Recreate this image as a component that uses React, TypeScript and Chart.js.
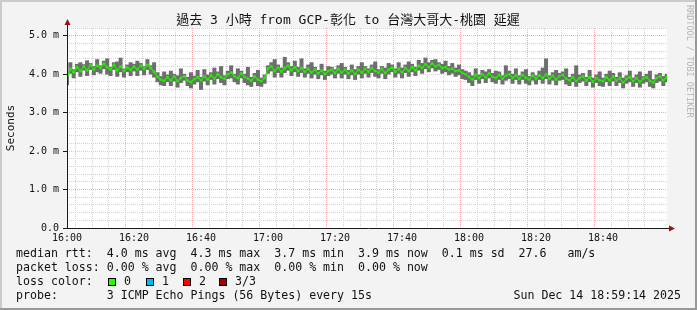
import React, { useEffect, useRef } from "react";
import { Chart, registerables } from "chart.js";

Chart.register(...registerables);

const W = 697;
const H = 310;

const titleText = "過去 3 小時 from GCP-彰化 to 台灣大哥大-桃園 延遲";
const yAxisTitle = "Seconds";
const startHour = 16;
const xMaxMinutes = 179.1;
const yMax = 5.2;

// median RTT (ms), one value per minute from 16:00
const medianRtt = [
  3.88, 4.14, 4.05, 4.18, 4.08, 4.20, 4.10, 4.24, 4.12, 4.22,
  4.16, 4.27, 4.18, 4.12, 4.24, 4.10, 4.20, 4.08, 4.17, 4.11,
  4.20, 4.12, 4.22, 4.14, 4.24, 4.16, 4.06, 3.93, 3.86, 3.83,
  3.92, 3.84, 3.94, 3.82, 3.90, 3.94, 3.84, 3.79, 3.87, 3.92,
  3.84, 3.94, 3.86, 3.97, 3.88, 4.00, 3.92, 3.88, 4.00, 4.04,
  3.94, 3.90, 4.02, 3.93, 3.88, 3.83, 3.94, 3.86, 3.82, 3.90,
  4.14, 4.20, 4.08, 4.17, 4.06, 4.16, 4.22, 4.10, 4.18, 4.08,
  4.16, 4.06, 4.14, 4.04, 4.12, 4.02, 4.10, 4.00, 4.08, 4.12,
  4.03, 4.14, 4.04, 4.12, 4.02, 4.10, 4.00, 4.12, 4.04, 4.14,
  4.06, 4.16, 4.08, 4.04, 4.14, 4.03, 4.12, 4.17, 4.06, 4.14,
  4.04, 4.16, 4.08, 4.18, 4.10, 4.22, 4.16, 4.26, 4.18, 4.28,
  4.20, 4.24, 4.16, 4.18, 4.12, 4.14, 4.08, 4.10, 4.03, 4.00,
  3.93, 3.86, 3.98, 3.90, 4.00, 3.92, 4.02, 3.93, 3.90, 3.98,
  3.88, 3.96, 4.00, 3.90, 3.97, 3.88, 3.98, 3.90, 3.86, 3.96,
  3.88, 3.97, 3.90, 3.99, 3.88, 3.96, 3.86, 3.95, 3.98, 3.88,
  3.84, 3.92, 3.82, 3.90, 3.94, 3.83, 3.92, 3.80, 3.90, 3.84,
  3.82, 3.92, 3.84, 3.94, 3.83, 3.90, 3.78, 3.88, 3.92, 3.82,
  3.90, 3.80, 3.88, 3.92, 3.82, 3.78, 3.90, 3.94, 3.84, 3.92,
];

// smoke upper edge (ms)
const smokeHigh = [
  3.96, 4.30, 4.12, 4.26, 4.30, 4.25, 4.35, 4.28, 4.20, 4.38,
  4.22, 4.34, 4.40, 4.18, 4.30, 4.32, 4.42, 4.14, 4.24, 4.30,
  4.26, 4.34, 4.28, 4.20, 4.38, 4.22, 4.30, 4.04, 3.94, 4.06,
  3.98, 4.08, 4.00, 3.96, 4.14, 4.00, 3.92, 4.04, 3.95, 4.10,
  3.92, 4.12, 3.98, 4.04, 4.16, 4.06, 4.20, 3.96, 4.08, 4.22,
  4.00, 4.14, 4.08, 4.00, 4.18, 3.92, 4.02, 4.10, 3.90, 3.98,
  4.22, 4.30, 4.38, 4.24, 4.16, 4.44, 4.30, 4.20, 4.34, 4.18,
  4.40, 4.14, 4.24, 4.30, 4.18, 4.10, 4.26, 4.08, 4.20, 4.18,
  4.12, 4.22, 4.28, 4.18, 4.10, 4.24, 4.12, 4.20, 4.30, 4.20,
  4.14, 4.24, 4.32, 4.12, 4.20, 4.16, 4.28, 4.24, 4.14, 4.30,
  4.16, 4.24, 4.32, 4.26, 4.18, 4.36, 4.28, 4.42, 4.30, 4.36,
  4.38, 4.30, 4.26, 4.34, 4.20, 4.28, 4.16, 4.24, 4.12, 4.08,
  4.04, 3.96, 4.14, 3.98, 4.10, 4.06, 4.12, 4.02, 4.08, 4.06,
  3.96, 4.22, 4.08, 4.00, 4.14, 3.96, 4.06, 4.12, 3.94, 4.04,
  3.96, 4.08, 4.16, 4.40, 3.96, 4.04, 4.10, 4.02, 4.06, 4.14,
  3.92, 4.00, 4.22, 3.98, 4.02, 3.92, 4.10, 3.90, 3.98, 4.06,
  3.90, 4.00, 4.08, 4.02, 3.92, 4.04, 3.90, 3.96, 4.08, 3.90,
  3.98, 4.06, 3.94, 4.00, 4.08, 3.86, 3.98, 4.02, 3.94, 4.00,
];

// smoke lower edge (ms)
const smokeLow = [
  3.72, 4.02, 3.90, 4.06, 3.94, 4.10, 3.96, 4.12, 3.98, 4.06,
  4.02, 4.14, 4.00, 3.96, 4.12, 3.94, 4.06, 3.92, 4.06, 3.96,
  4.08, 3.96, 4.10, 3.98, 4.12, 4.00, 3.92, 3.80, 3.72, 3.70,
  3.80, 3.70, 3.82, 3.66, 3.78, 3.84, 3.70, 3.64, 3.74, 3.80,
  3.60, 3.82, 3.72, 3.86, 3.74, 3.88, 3.78, 3.72, 3.88, 3.90,
  3.80, 3.74, 3.90, 3.78, 3.72, 3.68, 3.80, 3.70, 3.68, 3.76,
  4.02, 4.08, 3.92, 4.04, 3.92, 4.04, 4.10, 3.96, 4.06, 3.94,
  4.04, 3.92, 4.02, 3.90, 4.00, 3.88, 3.98, 3.86, 3.96, 4.00,
  3.90, 4.02, 3.90, 4.00, 3.88, 3.98, 3.86, 4.00, 3.90, 4.02,
  3.92, 4.04, 3.94, 3.90, 4.02, 3.88, 4.00, 4.06, 3.92, 4.02,
  3.90, 4.04, 3.94, 4.06, 3.96, 4.10, 4.02, 4.14, 4.06, 4.16,
  4.08, 4.12, 4.02, 4.06, 3.98, 4.02, 3.94, 3.98, 3.88, 3.86,
  3.78, 3.70, 3.86, 3.76, 3.88, 3.78, 3.90, 3.80, 3.76, 3.86,
  3.74, 3.84, 3.88, 3.76, 3.86, 3.74, 3.86, 3.76, 3.72, 3.84,
  3.74, 3.86, 3.76, 3.88, 3.74, 3.84, 3.72, 3.84, 3.86, 3.74,
  3.70, 3.80, 3.68, 3.78, 3.82, 3.70, 3.80, 3.66, 3.78, 3.70,
  3.68, 3.80, 3.70, 3.82, 3.70, 3.78, 3.64, 3.76, 3.80, 3.68,
  3.78, 3.66, 3.76, 3.80, 3.68, 3.64, 3.78, 3.82, 3.70, 3.80,
];

const legendRows = [
  "median rtt:  4.0 ms avg  4.3 ms max  3.7 ms min  3.9 ms now  0.1 ms sd  27.6   am/s",
  "packet loss: 0.00 % avg  0.00 % max  0.00 % min  0.00 % now",
  "loss color:",
  "probe:       3 ICMP Echo Pings (56 Bytes) every 15s",
];
const lossLabels = ["0", "1", "2", "3/3"];
const lossColors = ["#26ff00", "#00b8ff", "#ff0000", "#a00000"];
const dateText = "Sun Dec 14 18:59:14 2025";
const watermark = "RRDTOOL / TOBI OETIKER";

const MONO = '"DejaVu Sans Mono", "Noto Sans CJK TC", monospace';
const MINOR = "#d2d2d2";
const MAJOR = "#f2aaaa";

const isInt = (v: number) => Math.abs(v - Math.round(v)) < 1e-6;
const tickVal = (c: any) => (c && c.tick ? Number(c.tick.value) : NaN);

const decorPlugin = {
  id: "decor",
  beforeDraw(chart: any) {
    const { ctx, chartArea: a } = chart;
    ctx.save();
    ctx.fillStyle = "#f3f3f3";
    ctx.fillRect(0, 0, W, H);
    ctx.fillStyle = "#cbcbcb";
    ctx.fillRect(0, 0, W, 2);
    ctx.fillRect(0, 0, 2, H);
    ctx.fillStyle = "#999999";
    ctx.fillRect(W - 2, 0, 2, H);
    ctx.fillRect(0, H - 2, W, 2);
    ctx.fillStyle = "#ffffff";
    ctx.fillRect(a.left, a.top, a.right - a.left, a.bottom - a.top);
    ctx.restore();
  },
  afterDraw(chart: any) {
    const { ctx, chartArea: a } = chart;
    ctx.save();
    // axes
    ctx.strokeStyle = "#1a1a1a";
    ctx.lineWidth = 1;
    ctx.beginPath();
    ctx.moveTo(a.left + 0.5, a.bottom);
    ctx.lineTo(a.left + 0.5, a.top - 4);
    ctx.moveTo(a.left, a.bottom + 0.5);
    ctx.lineTo(a.right + 3, a.bottom + 0.5);
    ctx.stroke();
    // arrows
    ctx.fillStyle = "#9a1010";
    ctx.beginPath();
    ctx.moveTo(a.left + 0.5, a.top - 9);
    ctx.lineTo(a.left - 2.5, a.top - 3);
    ctx.lineTo(a.left + 3.5, a.top - 3);
    ctx.closePath();
    ctx.fill();
    ctx.beginPath();
    ctx.moveTo(a.right + 8, a.bottom + 0.5);
    ctx.lineTo(a.right + 2, a.bottom - 2.5);
    ctx.lineTo(a.right + 2, a.bottom + 3.5);
    ctx.closePath();
    ctx.fill();

    // title
    ctx.fillStyle = "#111";
    ctx.font = `13px ${MONO}`;
    ctx.textAlign = "center";
    ctx.textBaseline = "middle";
    ctx.fillText(titleText, 348, 21);

    // y title
    ctx.save();
    ctx.translate(11, 128);
    ctx.rotate(-Math.PI / 2);
    ctx.font = `11px ${MONO}`;
    ctx.fillText(yAxisTitle, 0, 0);
    ctx.restore();

    // watermark
    ctx.save();
    ctx.translate(689, 5);
    ctx.rotate(Math.PI / 2);
    ctx.font = `8.5px ${MONO}`;
    ctx.fillStyle = "#b4b4b4";
    ctx.textAlign = "left";
    ctx.fillText(watermark, 0, 0);
    ctx.restore();

    // legend
    ctx.font = `11.6px ${MONO}`;
    ctx.textAlign = "left";
    ctx.fillStyle = "#111";
    const rowsY = [254, 268, 282, 296];
    legendRows.forEach((r, i) => ctx.fillText(r, 16, rowsY[i]));
    const boxX = [108, 146, 183, 219];
    lossLabels.forEach((lab, i) => {
      ctx.fillStyle = lossColors[i];
      ctx.fillRect(boxX[i], 278, 8, 8);
      ctx.strokeStyle = "#000";
      ctx.strokeRect(boxX[i] + 0.5, 278.5, 7, 7);
      ctx.fillStyle = "#111";
      ctx.fillText(lab, boxX[i] + 16, 282);
    });
    ctx.textAlign = "right";
    ctx.fillText(dateText, 681, 296);
    ctx.restore();
  },
};

export default function App() {
  const ref = useRef<HTMLCanvasElement | null>(null);
  useEffect(() => {
    document.body.style.margin = "0";
    const minutes = medianRtt.map((_, i) => i);
    const chart = new Chart(ref.current as HTMLCanvasElement, {
      type: "bar",
      data: {
        datasets: [
          {
            type: "line",
            data: minutes.map((m, i) => ({ x: m, y: medianRtt[i] })),
            borderColor: "#22ee00",
            backgroundColor: "#22ee00",
            borderWidth: 1.2,
            pointRadius: 1.4,
            pointBorderWidth: 0,
            tension: 0,
            order: 0,
          } as any,
          {
            type: "bar",
            data: minutes.map((m, i) => ({ x: m, y: [smokeLow[i], smokeHigh[i]] })),
            backgroundColor: "#6e6e6e",
            borderWidth: 0,
            categoryPercentage: 1,
            barPercentage: 1,
            order: 1,
          } as any,
        ],
      },
      options: {
        animation: false,
        responsive: false,
        devicePixelRatio: 1,
        layout: { padding: { left: 0, top: 28, right: 30, bottom: 62 } },
        plugins: { legend: { display: false }, tooltip: { enabled: false } },
        scales: {
          x: {
            type: "linear",
            min: 0,
            max: xMaxMinutes,
            offset: false,
            afterFit: (s: any) => {
              s.height = 20;
            },
            grid: {
              drawTicks: false,
              color: (c: any) => {
                const v = tickVal(c);
                if (!isFinite(v) || v === 0) return "transparent";
                return v % 20 === 0 ? MAJOR : MINOR;
              },
            },
            border: { display: false, dash: [1, 1] },
            ticks: {
              stepSize: 5,
              includeBounds: false,
              autoSkip: false,
              maxRotation: 0,
              padding: 4,
              color: "#111",
              font: { family: MONO, size: 10 },
              callback: (v: any) => {
                const n = Number(v);
                if (n % 20 !== 0) return "";
                const h = startHour + Math.floor(n / 60);
                const m = n % 60;
                return `${h}:${String(m).padStart(2, "0")}`;
              },
            },
          },
          y: {
            type: "linear",
            min: 0,
            max: yMax,
            afterFit: (s: any) => {
              s.width = 67;
            },
            grid: {
              color: (c: any) => {
                const v = tickVal(c);
                if (!isFinite(v) || Math.abs(v) < 1e-6) return "transparent";
                if (isInt(v) && Math.round(v) % 2 === 1) return MAJOR;
                return MINOR;
              },
              tickLength: 4,
              tickColor: (c: any) => {
                const v = tickVal(c);
                return isFinite(v) && isInt(v) ? "#1a1a1a" : "transparent";
              },
              tickBorderDash: [],
            },
            border: { display: false, dash: [1, 1] },
            ticks: {
              stepSize: 0.2,
              includeBounds: false,
              autoSkip: false,
              padding: 4,
              color: "#111",
              font: { family: MONO, size: 10 },
              callback: (v: any) => {
                const n = Number(v);
                if (!isInt(n)) return "";
                const r = Math.round(n);
                return r === 0 ? "0.0" : `${r}.0 m`;
              },
            },
          },
        },
      },
      plugins: [decorPlugin],
    });
    return () => chart.destroy();
  }, []);
  return (
    <div style={{ position: "fixed", left: 0, top: 0, width: W, height: H }}>
      <canvas ref={ref} width={W} height={H} style={{ width: W, height: H, display: "block" }} />
    </div>
  );
}
